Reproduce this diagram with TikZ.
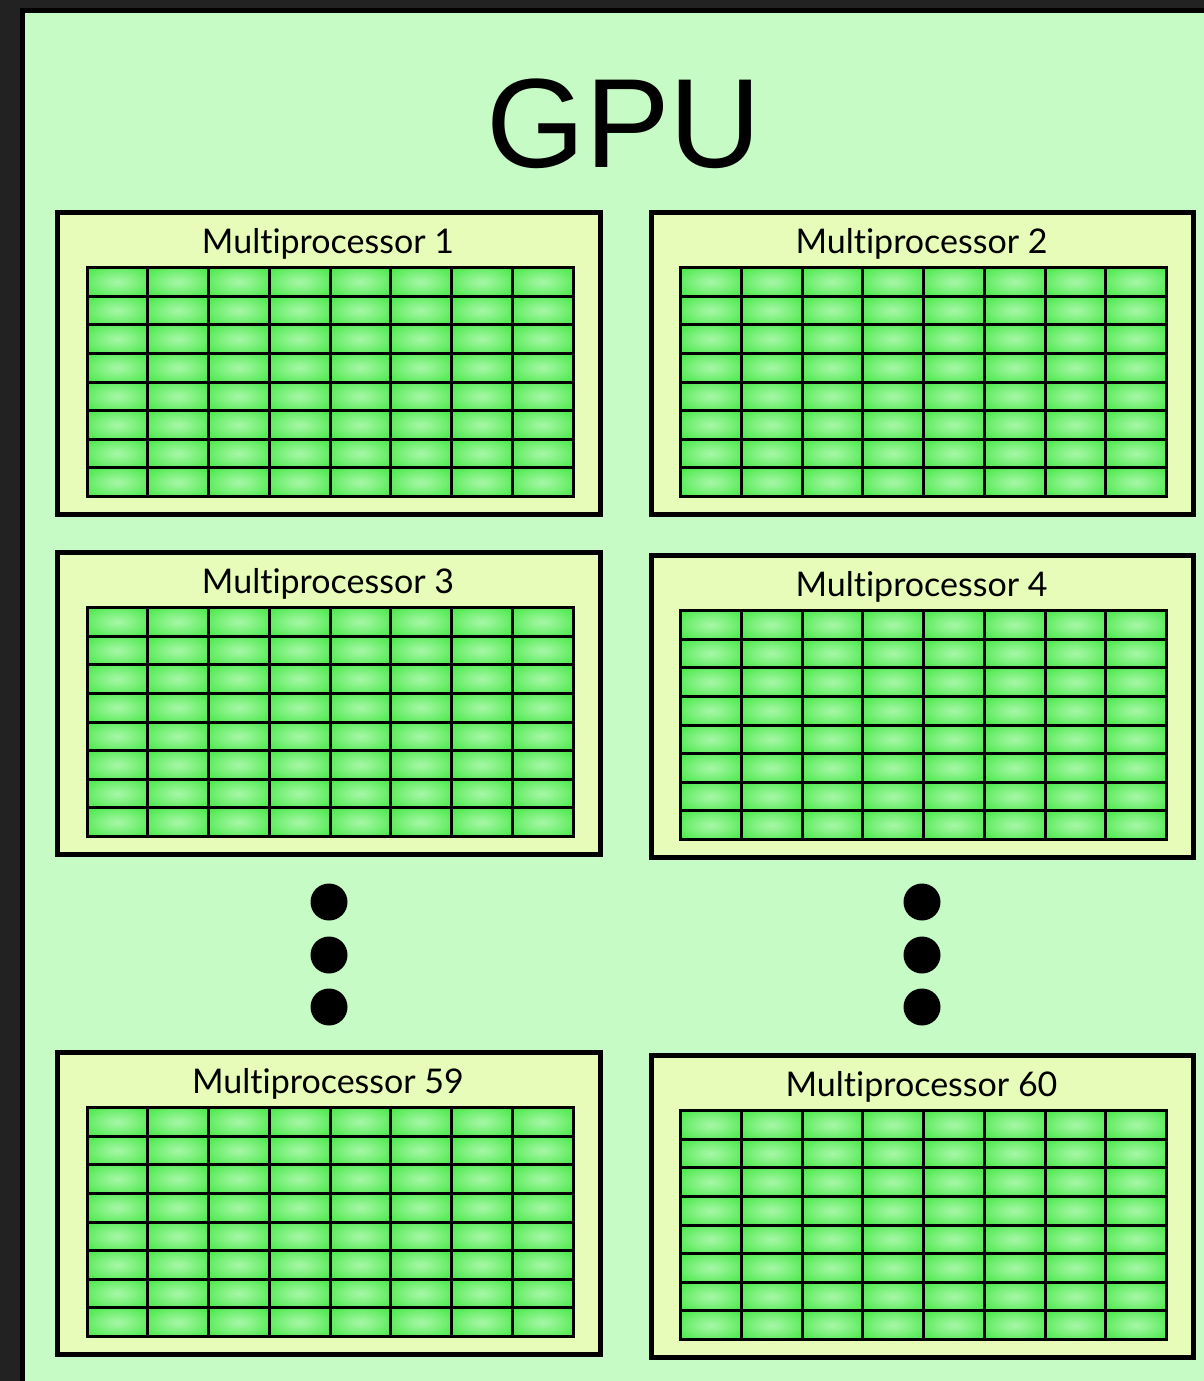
\documentclass[tikz,border=0pt]{standalone}
\usepackage{fontspec}
\setmainfont{Lato}[Ligatures=NoCommon]
\newfontfamily\titlefont{Liberation Sans}
\definecolor{bgdark}{HTML}{222222}
\definecolor{panelgreen}{HTML}{C6FBC6}
\definecolor{mpfill}{HTML}{E6FCB8}
\definecolor{cellout}{HTML}{24E324}
\definecolor{cellin}{HTML}{A6F7A6}
\pgfdeclareradialshading{cellshade}{\pgfpoint{0bp}{0bp}}{color(0bp)=(cellin); color(8bp)=(cellin!85!cellout); color(46bp)=(cellout); color(72bp)=(cellout)}
\begin{document}
\begin{tikzpicture}[x=0.5pt,y=-0.5pt,
  mpbox/.style={draw=black, line width=2.5pt, fill=mpfill, rectangle, inner sep=0pt,
    minimum width=271.25pt, minimum height=151pt},
  mplabel/.style={anchor=base, inner sep=0pt, font=\fontsize{17pt}{19pt}\selectfont},
  cell/.style={draw=black, line width=1.5pt, shading=cellshade},
  dotmark/.style={circle, fill=black, inner sep=0pt, minimum size=18.5pt},
  titlestyle/.style={anchor=base, inner sep=0pt, font=\titlefont\fontsize{63.5pt}{70pt}\selectfont}]
\useasboundingbox (0,0) rectangle (1204,1381);
\fill[bgdark] (0,0) rectangle (1204,1381);
\draw[fill=panelgreen, line width=2.5pt] (22.5,10.5) rectangle (1230,1400);
\node[titlestyle] (title) at (624,167) {GPU};
\foreach \n/\cx/\cy/\lab in {mpA/329/363.5/1, mpB/922.5/363.5/2, mpC/329/703.5/3, mpD/922.5/706.5/4, mpE/329/1203.5/59, mpF/922.5/1206.5/60} {
  \node[mpbox] (\n) at (\cx,\cy) {};
  \node[mplabel] (\n-label) at (\cx-1,\cy-110.5) {Multiprocessor \lab};
  \foreach \i in {0,...,7} {
    \foreach \j in {0,...,7} {
      \path[cell] (\cx-242+\i*60.75, \cy-96+\j*28.625) rectangle ++(60.75,28.625);
    }
  }
}
\foreach \k/\y in {1/902, 2/955, 3/1007} {
  \node[dotmark] (dotL\k) at (329,\y) {};
  \node[dotmark] (dotR\k) at (922,\y) {};
}
\end{tikzpicture}
\end{document}
